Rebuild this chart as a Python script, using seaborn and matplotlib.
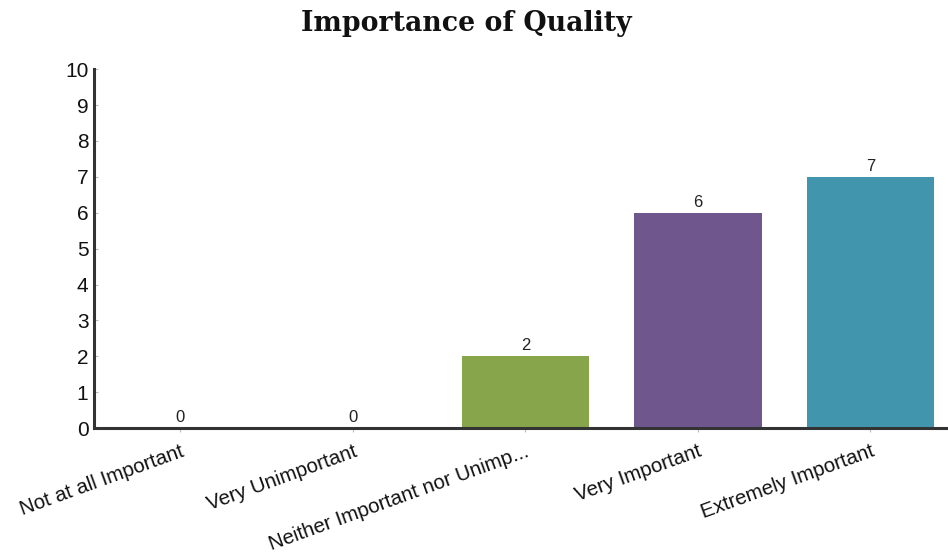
import matplotlib
matplotlib.use("Agg")
import matplotlib.pyplot as plt
import seaborn as sns
import pandas as pd

categories = ["Not at all Important", "Very Unimportant",
              "Neither Important nor Unimp...", "Very Important",
              "Extremely Important"]
counts = [0, 0, 2, 6, 7]
bar_colors = ["#8aa84c", "#8aa84c", "#87a64b", "#6f578e", "#4196ae"]
y_ticks = list(range(0, 11))

sns.set_theme(style="white")
plt.rcParams["font.family"] = ["Liberation Sans", "DejaVu Sans"]

df = pd.DataFrame({"category": categories, "count": counts})

fig = plt.figure(figsize=(9.48, 5.52), dpi=100)
ax = fig.add_axes([0.0992, 0.2246, 0.9008, 0.650])

sns.barplot(data=df, x="category", y="count", hue="category",
            palette=bar_colors, width=0.74, legend=False, ax=ax,
            saturation=1, edgecolor="none")

for i, v in enumerate(counts):
    ax.text(i, v + 0.08, str(v), ha="center", va="bottom",
            fontsize=12, color="#222222")

ax.set_xlim(-0.5, 4.45)
ax.set_ylim(0, 10)
ax.set_yticks(y_ticks)
ax.set_yticklabels([str(t) for t in y_ticks], fontsize=15, color="#111111")
ax.set_xticks(range(len(categories)))
ax.set_xticklabels(categories, rotation=20, ha="right",
                   rotation_mode="anchor", fontsize=14.8, color="#111111")
ax.set_xlabel("")
ax.set_ylabel("")

for side in ["top", "right"]:
    ax.spines[side].set_visible(False)
for side in ["left", "bottom"]:
    ax.spines[side].set_color("#333333")
    ax.spines[side].set_linewidth(2.2)

ax.tick_params(axis="y", direction="in", length=3, width=0.8,
               color="#bbbbbb", pad=4, left=True)
ax.tick_params(axis="x", direction="out", length=3, width=0.8,
               color="#bbbbbb", pad=7, bottom=True)

fig.text(0.492, 0.958, "Importance of Quality", ha="center", va="center",
         fontsize=19.3, fontweight="bold",
         family=["DejaVu Serif"], color="#111111")

fig.savefig("out.png", dpi=100)
